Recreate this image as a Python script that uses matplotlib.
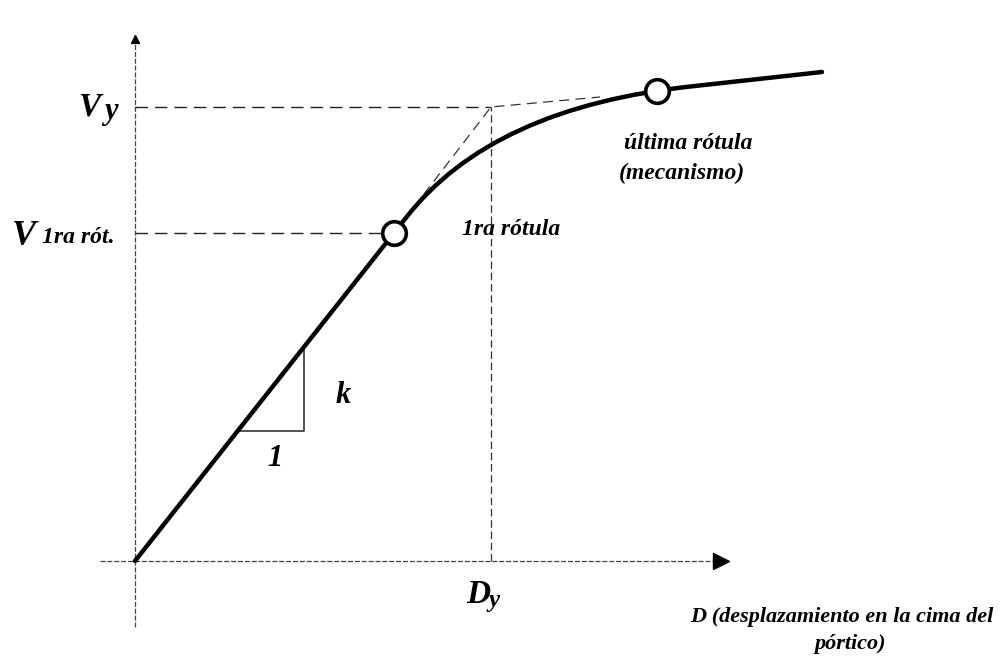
import matplotlib
matplotlib.use("Agg")
import matplotlib.pyplot as plt
from matplotlib.path import Path
from matplotlib.patches import PathPatch

# ---- data (displacement D, shear V), arbitrary units ----
curve_D = [0, 270, 356, 560, 687]          # capacity curve: line, quadratic Bezier, line
curve_V = [0, 342, 454, 475, 489]
curve_codes = [Path.MOVETO, Path.LINETO, Path.CURVE3, Path.CURVE3, Path.LINETO]

hinge_D = [259, 522]                       # 1ra rótula, última rótula
hinge_V = [328, 470]

Dy, Vy = 356, 454                          # idealised yield point
V1ra = 328
bilin_D = [259, 356, 465]                  # dashed bilinear idealisation
bilin_V = [328, 454, 464]

tri_D = [103, 169, 169]                    # stiffness triangle
tri_V = [130, 130, 214]

axis_x = [-35, 591]                        # horizontal axis extent
axis_y = [-66, 522]                        # vertical axis extent

fig = plt.figure(figsize=(10.07, 6.6), dpi=100)
ax = fig.add_axes([0, 0, 1, 1])
ax.set_xlim(-135, 872)
ax.set_ylim(-99, 561)
ax.axis("off")

axcol = "#444444"
# axes
ax.plot(axis_x, [0, 0], color=axcol, lw=0.9, ls=(0, (4, 1.5)), zorder=1)
ax.plot([0, 0], axis_y, color=axcol, lw=0.9, ls=(0, (4, 1.5)), zorder=1)
ax.plot([axis_x[1] - 5], [0], marker=">", ms=11, color="black", zorder=2)
ax.plot([0], [axis_y[1]], marker="^", ms=6, color="black", zorder=2)

dash = (0, (9, 5))
# reference lines
ax.plot([0, Dy], [Vy, Vy], color="#222222", lw=1.0, ls=dash, zorder=1)
ax.plot([0, hinge_D[0]], [V1ra, V1ra], color="#222222", lw=1.0, ls=dash, zorder=1)
ax.plot([Dy, Dy], [0, Vy], color="#333333", lw=0.9, ls=(0, (6, 3)), zorder=1)
ax.plot(bilin_D, bilin_V, color="#333333", lw=0.9, ls=(0, (8, 5)), zorder=1)

# stiffness triangle
ax.plot(tri_D, tri_V, color="#222222", lw=1.1, zorder=2)

# capacity curve
path = Path(list(zip(curve_D, curve_V)), curve_codes)
ax.add_patch(PathPatch(path, facecolor="none", edgecolor="black", lw=3.2,
                       capstyle="round", joinstyle="round", zorder=3))

# hinges
ax.plot(hinge_D, hinge_V, ls="none", marker="o", ms=17, mfc="white",
        mec="black", mew=2.6, zorder=4)

font = dict(family="Liberation Serif", style="italic", weight="bold")

def px(x, y):
    return x - 135, 561 - y

lab = 17
ax.text(*px(78, 115), "V", fontsize=24, ha="left", va="baseline", **font)
ax.text(*px(104, 119), "y", fontsize=22, ha="left", va="baseline", **font)
ax.text(*px(12, 245), "V", fontsize=26, ha="left", va="baseline", **font)
ax.text(*px(42, 243), "1ra rót.", fontsize=lab, ha="left", va="baseline", **font)
ax.text(*px(462, 235), "1ra rótula", fontsize=lab, ha="left", va="baseline", **font)
ax.text(*px(688, 149), "última rótula", fontsize=lab, ha="center", va="baseline", **font)
ax.text(*px(682, 179), "(mecanismo)", fontsize=lab, ha="center", va="baseline", **font)
ax.text(*px(343, 403), "k", fontsize=22, ha="center", va="baseline", **font)
ax.text(*px(275, 466), "1", fontsize=22, ha="center", va="baseline", **font)
ax.text(*px(466, 603), "D", fontsize=24, ha="left", va="baseline", **font)
ax.text(*px(489, 607), "y", fontsize=18, ha="left", va="baseline", **font)
ax.text(*px(993, 622), "D (desplazamiento en la cima del", fontsize=16,
        ha="right", va="baseline", **font)
ax.text(*px(850, 649), "pórtico)", fontsize=16, ha="center", va="baseline", **font)

fig.savefig("out.png", dpi=100)
